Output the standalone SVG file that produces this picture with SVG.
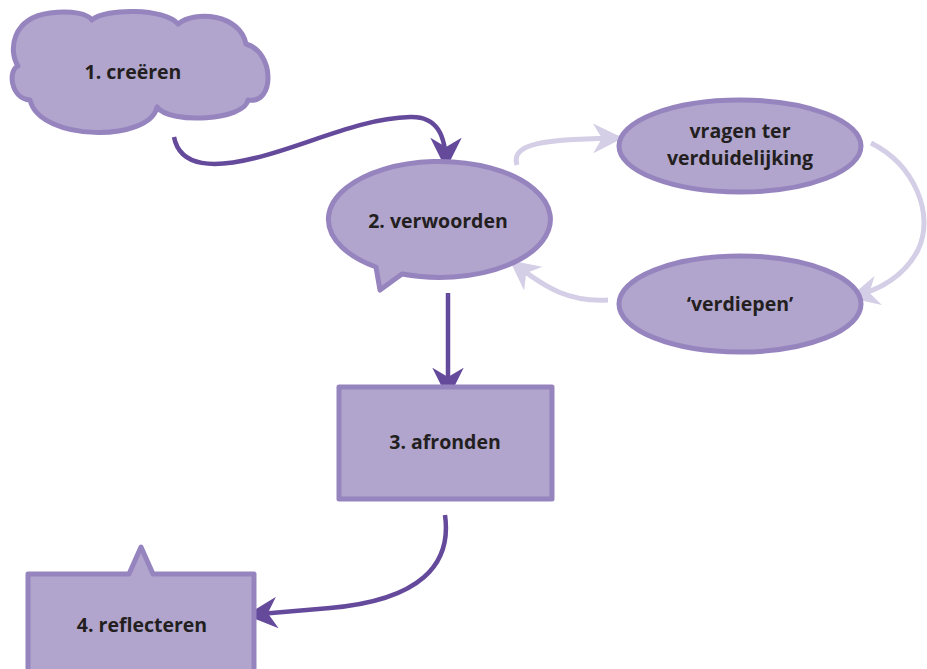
<svg xmlns="http://www.w3.org/2000/svg" width="927" height="669" viewBox="0 0 927 669">
<defs>
<style>
.node{fill:#b1a5cd;stroke:#9684bf;stroke-width:5;stroke-linejoin:round}
.lbl{font-family:"Open Sans","Liberation Sans",sans-serif;font-weight:700;font-size:19.5px;fill:#231f20;text-anchor:middle}
.dark{fill:none;stroke:#654a9c;stroke-width:4.5}
.light{fill:none;stroke:#d4cfe6;stroke-width:5}
</style>
<marker id="ad" viewBox="0 0 10 10" refX="9" refY="5" markerWidth="7" markerHeight="7" markerUnits="strokeWidth" orient="auto"><path d="M0,0 L10,5 L0,10 L3,5 Z" fill="#654a9c"/></marker>
<marker id="al" viewBox="0 0 10 10" refX="9" refY="5" markerWidth="6" markerHeight="6" markerUnits="strokeWidth" orient="auto"><path d="M0,0 L10,5 L0,10 L3,5 Z" fill="#d4cfe6"/></marker>
</defs>
<g id="connectors">
<path class="dark" d="M174,137 C180,168 215,168 255,158 C305,146 360,118 410,117 C437,116 446,135 446,166" marker-end="url(#ad)"/>
<path class="dark" d="M448,293 L448,396" marker-end="url(#ad)"/>
<path class="dark" d="M445,515 C452,565 420,600 330,608 L249,615" marker-end="url(#ad)"/>
<path class="light" d="M517,165 C510,143 545,139 620,138" marker-end="url(#al)"/>
<path class="light" d="M871,143 C915,165 935,215 918,250 C905,275 880,290 852,297" marker-end="url(#al)"/>
<path class="light" d="M608,300 C570,302 548,290 512,262" marker-end="url(#al)"/>
</g>
<g id="n1">
<path class="node" d="M18,66 C8,50 12,18 50,13 C72,10 88,14 92,20 C105,8 165,8 178,24 C195,10 240,14 246,44 C275,52 275,105 248,100 C245,120 170,125 157,107 C150,142 40,142 30,100 C10,98 8,70 18,66 Z"/>
<text class="lbl" x="133" y="79">1. creëren</text>
</g>
<g id="n2">
<path class="node" d="M376,267 A111,58 0 1 1 402,274 L380,290 Z"/>
<text class="lbl" x="438" y="228">2. verwoorden</text>
</g>
<g id="n3">
<rect class="node" x="339" y="387" width="213" height="112"/>
<text class="lbl" x="445" y="449">3. afronden</text>
</g>
<g id="n4">
<path class="node" d="M28,574 L129,574 L141,547 L153,574 L254,574 L254,675 L28,675 Z"/>
<text class="lbl" x="142" y="632">4. reflecteren</text>
</g>
<g id="n5">
<ellipse class="node" cx="740" cy="146" rx="121" ry="46"/>
<text class="lbl" x="740" y="138">vragen ter</text>
<text class="lbl" x="740" y="165">verduidelijking</text>
</g>
<g id="n6">
<ellipse class="node" cx="740" cy="304" rx="121" ry="48"/>
<text class="lbl" x="740" y="311">‘verdiepen’</text>
</g>
</svg>
